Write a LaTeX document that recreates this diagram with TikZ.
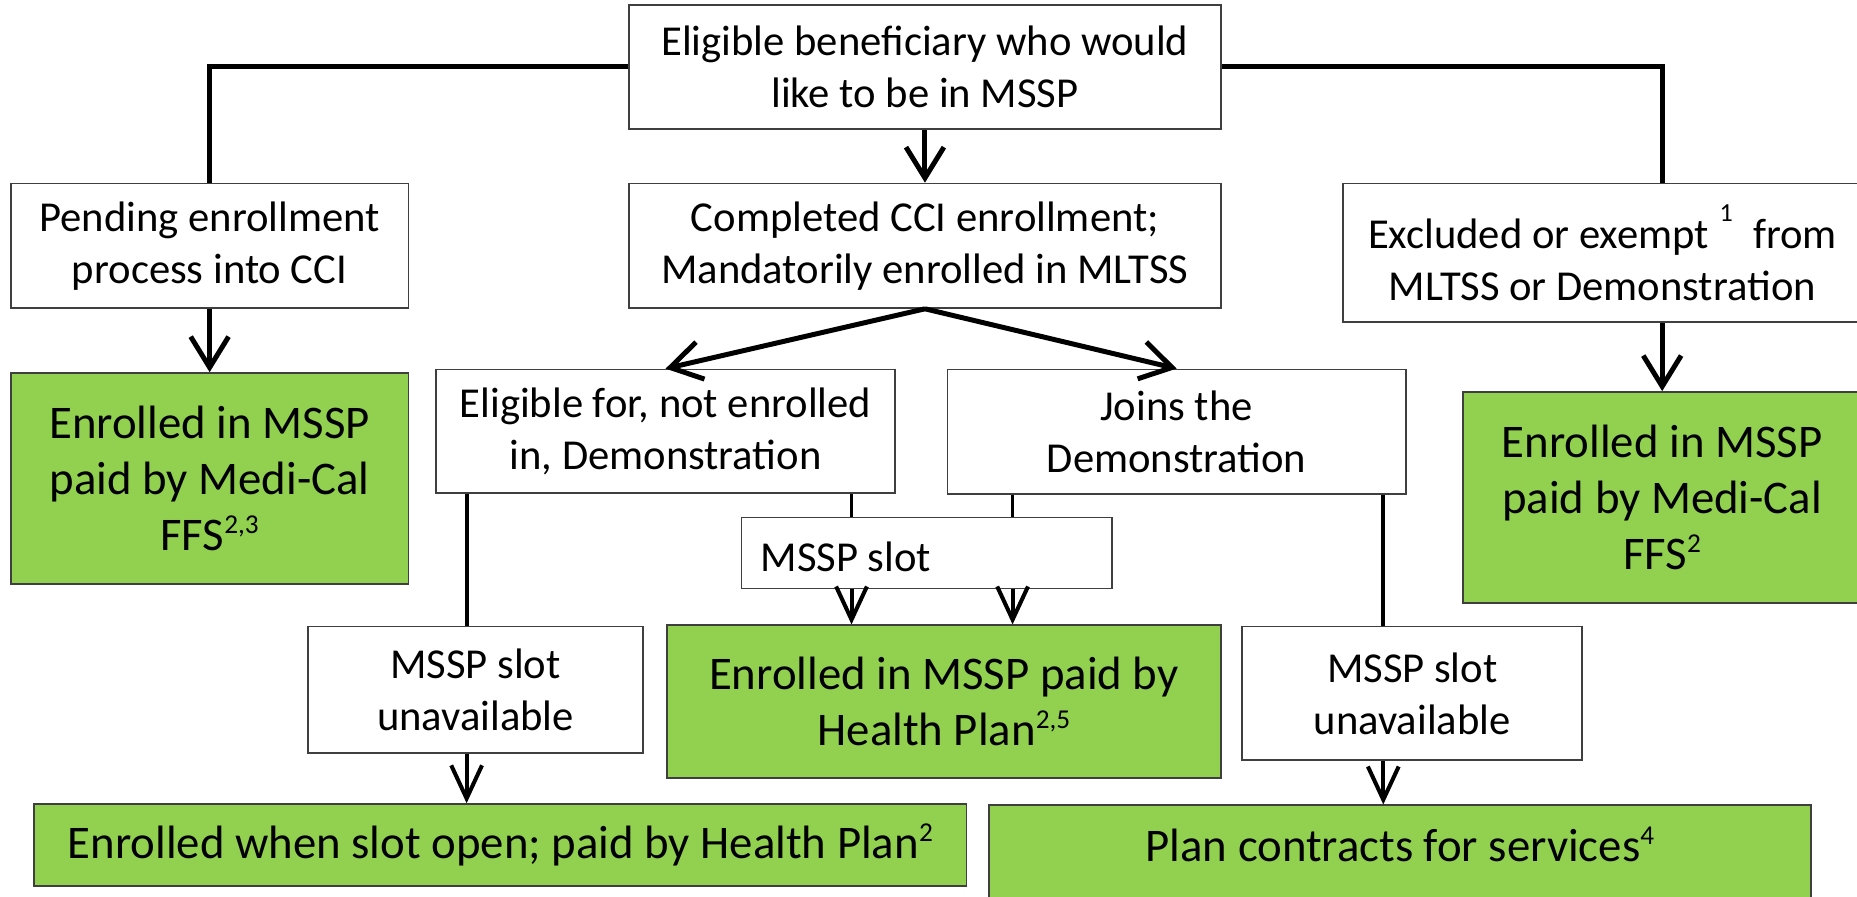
\documentclass[tikz,border=0pt]{standalone}
\usepackage{fontspec}
\setmainfont{Carlito}
\usetikzlibrary{arrows.meta,calc}
\definecolor{boxgreen}{HTML}{92D050}
\definecolor{edgegray}{HTML}{3F3F3F}
\newcommand\supx[1]{\raisebox{0.36em}{\fontsize{23}{23}\selectfont #1}}
\tikzset{
  box/.style={draw=edgegray, line width=1.5pt, fill=white, align=center, inner sep=0pt,
              font=\fontsize{36}{44}\selectfont},
  gbox/.style={box, fill=boxgreen, font=\fontsize{39.5}{47}\selectfont},
  conn/.style={line width=4.2pt},
  thinconn/.style={line width=3.2pt},
  arr/.style={line width=4.2pt, -{Straight Barb[length=26pt,width=32pt]}},
  thinarr/.style={line width=3.4pt, -{Straight Barb[length=28pt,width=26pt]}},
}
\begin{document}
\begin{tikzpicture}[x=1pt,y=-1pt]
\useasboundingbox (0,0) rectangle (1568,757);
\clip (0,0) rectangle (1568,757);
% nodes
\node[box, minimum width=500pt, minimum height=105pt] (top) at (781,56.5) {Eligible beneficiary who would\\like to be in MSSP};
\node[box, minimum width=336pt, minimum height=105pt] (pend) at (177,207.5) {Pending enrollment\\process into CCI};
\node[box, minimum width=500pt, minimum height=105pt] (comp) at (781,207.5) {Completed CCI enrollment;\\Mandatorily enrolled in MLTSS};
\node[box, minimum width=438pt, minimum height=117pt] (excl) at (1353,213.5) {Excluded or exempt\hspace{0.25em}\raisebox{0.62em}{\fontsize{22}{22}\selectfont 1}\hspace{0.25em} from\\MLTSS or Demonstration};
\node[gbox, minimum width=336pt, minimum height=178pt] (g1) at (177,404) {Enrolled in MSSP\\paid by Medi-Cal\\FFS\supx{2,3}};
\node[box, minimum width=388pt, minimum height=104pt] (elig) at (562,364) {Eligible for, not enrolled\\in, Demonstration};
\node[box, minimum width=387pt, minimum height=105pt] (joins) at (993.5,364.5) {Joins the\\Demonstration};
\node[gbox, minimum width=337pt, minimum height=178pt] (g3) at (1403.5,420) {Enrolled in MSSP\\paid by Medi-Cal\\FFS\supx{2}};
\node[box, minimum width=313pt, minimum height=60pt] (slot) at (782.5,467) {};
\node[anchor=west, inner sep=0pt, font=\fontsize{36}{44}\selectfont] (slott) at (642,470) {MSSP slot};
\node[box, minimum width=283pt, minimum height=107pt] (un1) at (401.5,582.5) {MSSP slot\\unavailable};
\node[gbox, minimum width=468pt, minimum height=129pt] (g2) at (797,592.5) {Enrolled in MSSP paid by\\Health Plan\supx{2,5}};
\node[box, minimum width=287pt, minimum height=113pt] (un2) at (1192.5,585.5) {MSSP slot\\unavailable};
\node[gbox, minimum width=787pt, minimum height=69pt] (g4) at (422.5,713.5) {Enrolled when slot open; paid by Health Plan\supx{2}};
\node[gbox, minimum width=694pt, minimum height=100pt] (g5) at (1182,730) {};
\node[inner sep=0pt, font=\fontsize{39.5}{47}\selectfont] (g5t) at (1182,713) {Plan contracts for services\supx{4}};
% helper columns
\coordinate (sa) at (719,0);
\coordinate (sb) at (855,0);
\coordinate (sc) at (394,0);
\coordinate (sd) at (1168,0);
% connectors
\draw[conn] (top.west) -| (pend.north);
\draw[conn] (top.east) -| (excl.north -| g3.north);
\draw[arr] (excl.south -| g3.north) -- (g3.north);
\draw[arr] (top.south) -- (comp.north);
\draw[arr] (pend.south) -- (g1.north);
\draw[arr] (comp.south) -- (elig.north);
\draw[arr] (comp.south) -- (joins.north);
\draw[thinconn] (elig.south -| sa) -- (slot.north -| sa);
\draw[thinconn] (joins.south -| sb) -- (slot.north -| sb);
\draw[thinarr] (slot.south -| sa) -- (g2.north -| sa);
\draw[thinarr] (slot.south -| sb) -- (g2.north -| sb);
\draw[thinconn] (elig.south -| sc) -- (un1.north -| sc);
\draw[thinarr] (un1.south -| sc) -- (g4.north -| sc);
\draw[thinconn] (joins.south -| sd) -- (un2.north -| sd);
\draw[thinarr] (un2.south -| sd) -- (g5.north -| sd);
\end{tikzpicture}
\end{document}
